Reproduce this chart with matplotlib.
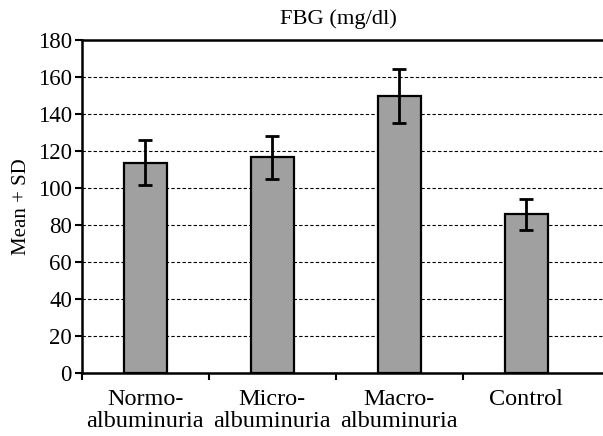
import matplotlib
matplotlib.use("Agg")
import matplotlib.pyplot as plt
import matplotlib.transforms as mtrans
import numpy as np

categories = ["Normo-\nalbuminuria", "Micro-\nalbuminuria", "Macro-\nalbuminuria", "Control"]
means = [113.6, 116.5, 149.6, 85.7]
sds = [12.3, 11.5, 14.6, 8.4]
yticks = [0, 20, 40, 60, 80, 100, 120, 140, 160, 180]

plt.rcParams['font.family'] = ['Liberation Serif', 'DejaVu Serif']

fig = plt.figure(figsize=(6.03, 4.36), dpi=100)
W, H = 603, 436
left_px, right_px, top_px, bot_px = 81.7, 612, 40, 372.7
ax = fig.add_axes([left_px / W, 1 - bot_px / H, (right_px - left_px) / W, (bot_px - top_px) / H])

cat_w = 127.0
x = np.arange(len(categories))
ax.set_xlim(-0.5, -0.5 + (right_px - left_px) / cat_w)
ax.set_ylim(0, 180)

for yv in yticks[1:-1]:
    ax.axhline(yv, color='black', lw=0.8, ls=(0, (3, 2)), zorder=1)

ax.bar(x, means, width=0.34, color='#a0a0a0', edgecolor='black', linewidth=1.6, zorder=2)
ax.errorbar(x, means, yerr=sds, fmt='none', ecolor='black', elinewidth=2, capsize=5, capthick=2, zorder=3)

ax.set_yticks(yticks)
ax.set_yticklabels([str(v) for v in yticks], fontsize=16.5)
ax.set_xticks([-0.5, 0.5, 1.5, 2.5])
ax.set_xticklabels([])
ax.tick_params(axis='y', direction='out', length=5, width=1.5, pad=2)
ax.tick_params(axis='x', direction='out', length=5, width=1.5)
trans = mtrans.blended_transform_factory(ax.transData, fig.transFigure)
for i, c in enumerate(categories):
    ax.text(i, 1 - 389 / H, c, ha='center', va='top', fontsize=17.5, linespacing=1.06,
            transform=trans, clip_on=False)

for s in ['left', 'bottom', 'top', 'right']:
    ax.spines[s].set_linewidth(1.8)

ax.set_ylabel("Mean + SD", fontsize=15, labelpad=5)
fig.text(338.5 / W, 1 - 19 / H, "FBG (mg/dl)", ha='center', va='center', fontsize=16.2)

fig.savefig("out.png", dpi=100)
